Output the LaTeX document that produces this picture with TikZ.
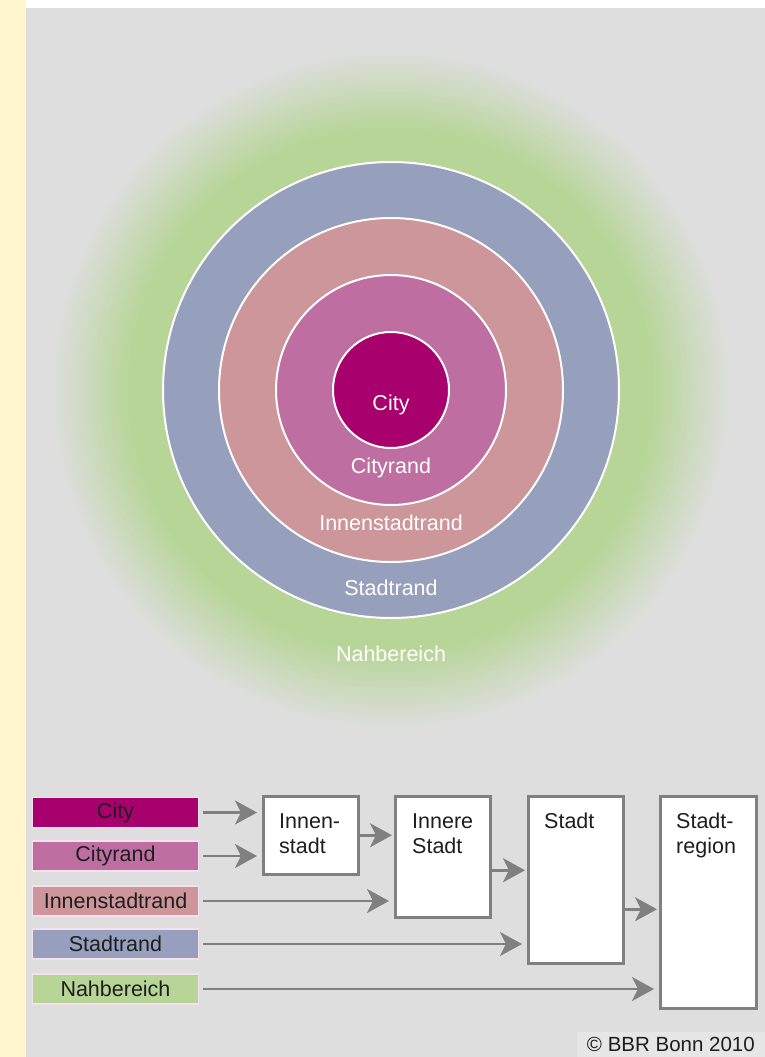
\documentclass[tikz,border=0pt]{standalone}
\usepackage{fontspec}
\setmainfont{Liberation Sans}
\usetikzlibrary{arrows.meta,positioning}

\definecolor{citycol}{RGB}{168,0,108}
\definecolor{cityrandcol}{RGB}{191,110,162}
\definecolor{innrandcol}{RGB}{204,150,154}
\definecolor{stadtrandcol}{RGB}{150,160,189}
\definecolor{nahcol}{RGB}{182,213,150}
\definecolor{bggray}{RGB}{222,222,222}
\definecolor{stripyellow}{RGB}{255,245,206}
\definecolor{arrowgray}{RGB}{128,128,128}
\definecolor{textdark}{RGB}{30,30,30}

\tikzset{
  ring/.style={draw=white, line width=2pt},
  ringlabel/.style={text=white, font=\fontsize{21.5}{25}\selectfont},
  band/.style={draw=white!88!citycol, line width=1.6pt, minimum width=166pt,
    minimum height=30pt, inner sep=0pt, text=textdark,
    font=\fontsize{21.5}{25}\selectfont},
  stage/.style={draw=arrowgray, line width=2.5pt, fill=white, anchor=north west,
    minimum width=95pt, inner sep=0pt},
  stagetext/.style={anchor=north west, align=left, inner sep=0pt, text=textdark,
    font=\fontsize{21.5}{25}\selectfont},
  flow/.style={draw=arrowgray, line width=2.5pt,
    -{Stealth[length=22pt,width=24pt,inset=6pt]}}
}

\begin{document}
\begin{tikzpicture}[x=1pt,y=-1pt]

  \useasboundingbox (0,0) rectangle (765,1057);
  \fill[stripyellow] (0,0) rectangle (26,1057);
  \fill[white] (26,0) rectangle (765,8);
  \fill[bggray] (26,8) rectangle (765,1057);

  % rings
  \coordinate (ctr) at (391,390);
  \foreach \r in {340,338,...,258} {
    \pgfmathsetmacro{\p}{min(100,100*(340-\r)/80)}
    \fill[nahcol!\p!bggray] (ctr) circle (\r pt);
  }
  \path[fill=stadtrandcol, ring] (ctr) circle (228pt);
  \path[fill=innrandcol, ring] (ctr) circle (172pt);
  \path[fill=cityrandcol, ring] (ctr) circle (115pt);
  \path[fill=citycol, ring] (ctr) circle (58pt);

  \begin{scope}[every node/.style={ringlabel}]
    \node (lcity)  at (391,405) {City};
    \node (lcrand) at (391,468) {Cityrand};
    \node (lirand) at (391,523) {Innenstadtrand};
    \node (lsrand) at (391,588) {Stadtrand};
    \node (lnah)   at (391,654) {Nahbereich};
  \end{scope}

  % legend
  \node[band, fill=citycol]      (city)  at (115.5,812.5) {City};
  \node[band, fill=cityrandcol]  (crand) at (115.5,856)   {Cityrand};
  \node[band, fill=innrandcol]   (irand) at (115.5,901)   {Innenstadtrand};
  \node[band, fill=stadtrandcol] (srand) at (115.5,944)   {Stadtrand};
  \node[band, fill=nahcol]       (nah)   at (115.5,989)   {Nahbereich};

  \node[stage, minimum height=78pt]  (innen)  at (262,795) {};
  \node[stage, minimum height=121pt] (innere) at (394,795) {};
  \node[stage, minimum height=167pt] (stadt)  at (527,795) {};
  \node[stage, minimum height=212pt, minimum width=96pt] (region) at (659,795) {};

  \node[stagetext] (innen-t)  at (279,813) {Innen-\\stadt};
  \node[stagetext] (innere-t) at (412,813) {Innere\\Stadt};
  \node[stagetext] (stadt-t)  at (544,813) {Stadt};
  \node[stagetext] (region-t) at (676,813) {Stadt-\\region};

  \begin{scope}[shorten <=4pt, shorten >=5pt]
    \draw[flow] (city.east)  -- (city.east -| innen.west);
    \draw[flow] (crand.east) -- (crand.east -| innen.west);
    \draw[flow] (irand.east) -- (irand.east -| innere.west);
    \draw[flow] (srand.east) -- (srand.east -| stadt.west);
    \draw[flow] (nah.east)   -- (nah.east -| region.west);
  \end{scope}

  \begin{scope}[shorten >=2pt]
    \draw[flow] (innen.east) -- (innen.east -| innere.west);
    \draw[flow] ([yshift=-13.5pt]innere.east) -- ([yshift=-13.5pt]innere.east -| stadt.west);
    \draw[flow] ([yshift=-29.5pt]stadt.east) -- ([yshift=-29.5pt]stadt.east -| region.west);
  \end{scope}

  \node[fill=white!25!bggray, anchor=south east, inner xsep=10pt, inner ysep=5pt,
    text=textdark, font=\fontsize{20.5}{24}\selectfont] (copy) at (765,1057)
    {© BBR Bonn 2010};

\end{tikzpicture}
\end{document}
